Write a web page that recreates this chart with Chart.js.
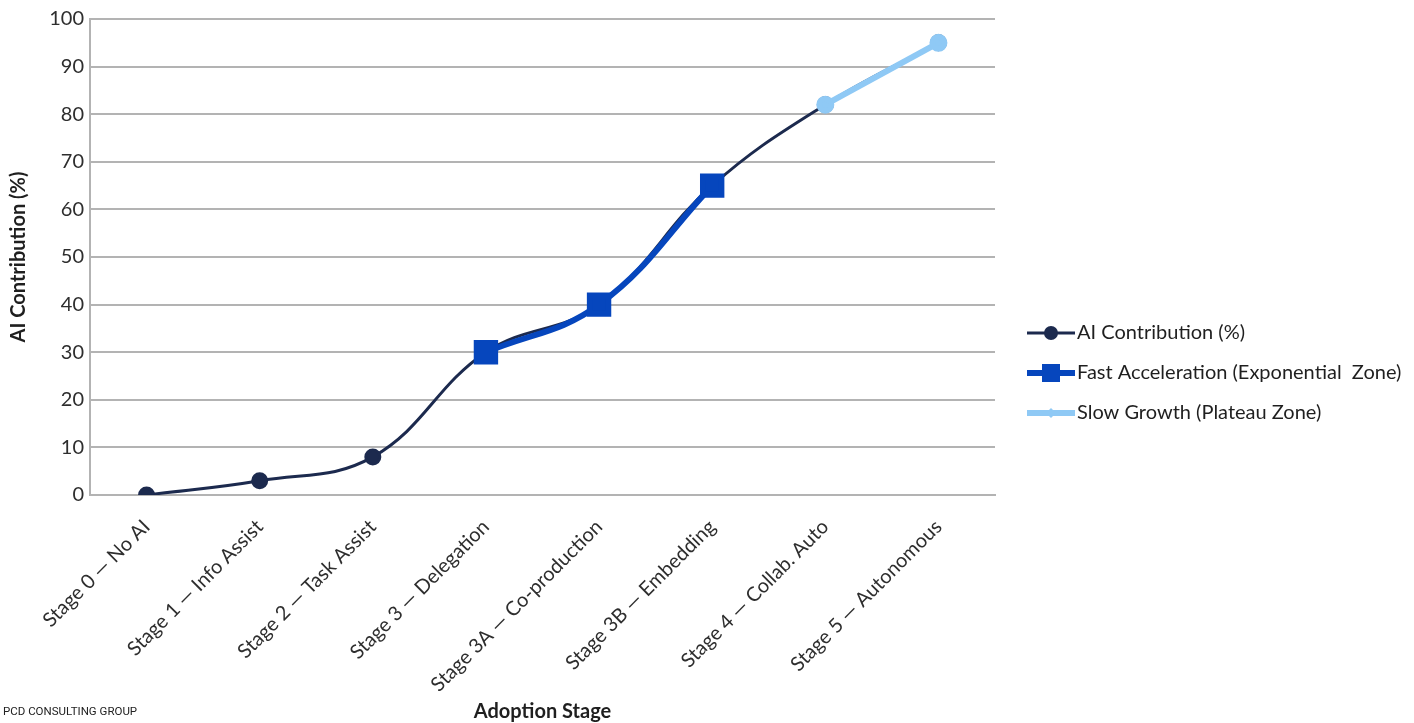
<!DOCTYPE html>
<html>
<head>
<meta charset="utf-8">
<script src="https://cdn.jsdelivr.net/npm/chart.js@4.4.1/dist/chart.umd.min.js"></script>
<style>
  html, body { margin: 0; padding: 0; background: #ffffff; }
  #wrap { position: relative; width: 1414px; height: 723px; }
  #brand {
    position: absolute; left: 3px; top: 703px;
    font-family: Roboto, "Liberation Sans", sans-serif; font-size: 11.5px;
    line-height: 16px; color: #222;
  }
</style>
</head>
<body>
<div id="wrap">
  <canvas id="chart" width="1414" height="723"></canvas>
  <div id="brand">PCD CONSULTING GROUP</div>
</div>
<script>
// Adoption stages along the x axis
const stages = [
  'Stage 0 — No AI',
  'Stage 1 — Info Assist',
  'Stage 2 — Task Assist',
  'Stage 3 — Delegation',
  'Stage 3A — Co-production',
  'Stage 3B — Embedding',
  'Stage 4 — Collab. Auto',
  'Stage 5 — Autonomous'
];

// AI contribution (%) per stage
const aiContribution = [0, 3, 8, 30, 40, 65, 82, 95];
// Highlighted exponential zone (stages 3 to 3B)
const fastAcceleration = [null, null, null, 30, 40, 65, null, null];
// Highlighted plateau zone (stages 4 to 5)
const slowGrowth = [null, null, null, null, null, null, 82, 95];

const yTicks = [0, 10, 20, 30, 40, 50, 60, 70, 80, 90, 100];

const NAVY = '#1c2a4e';
const BLUE = '#0646bd';
const LIGHT = '#8fc9f5';
const GRID = '#b3b3b3';
const FONT = 'Lato, "Liberation Sans", sans-serif';

// Legend drawn at the right of the plot, one line+marker sample per dataset
const sideLegend = {
  id: 'sideLegend',
  afterDraw(chart) {
    const ctx = chart.ctx;
    const x0 = 1027, x1 = 1075, rowY = [333, 373, 413];
    chart.data.datasets.forEach((ds, i) => {
      const y = rowY[i];
      const cx = (x0 + x1) / 2;
      ctx.save();
      ctx.strokeStyle = ds.borderColor;
      ctx.lineWidth = ds.borderWidth;
      ctx.lineCap = 'butt';
      ctx.beginPath();
      ctx.moveTo(x0, y);
      ctx.lineTo(x1, y);
      ctx.stroke();
      ctx.fillStyle = ds.pointBackgroundColor;
      if (ds.pointStyle === 'rect') {
        ctx.fillRect(cx - 9, y - 9, 18, 18);
      } else if (ds.legendMarker === 'diamond') {
        ctx.beginPath();
        ctx.moveTo(cx, y - 5); ctx.lineTo(cx + 5, y);
        ctx.lineTo(cx, y + 5); ctx.lineTo(cx - 5, y);
        ctx.closePath(); ctx.fill();
      } else {
        ctx.beginPath();
        ctx.arc(cx, y, 7, 0, Math.PI * 2);
        ctx.fill();
      }
      ctx.fillStyle = '#1f1f1f';
      ctx.font = '20px ' + FONT;
      ctx.textBaseline = 'middle';
      ctx.textAlign = 'left';
      ctx.fillText(ds.label, x1 + 2, y);
      ctx.restore();
    });
  }
};

new Chart(document.getElementById('chart'), {
  type: 'line',
  data: {
    labels: stages,
    datasets: [
      {
        label: 'AI Contribution (%)',
        data: aiContribution,
        borderColor: NAVY,
        backgroundColor: NAVY,
        pointBackgroundColor: NAVY,
        pointBorderColor: NAVY,
        borderWidth: 3,
        pointRadius: 7,
        pointStyle: 'circle',
        tension: 0.4,
        order: 3
      },
      {
        label: 'Fast Acceleration (Exponential  Zone)',
        data: fastAcceleration,
        borderColor: BLUE,
        backgroundColor: BLUE,
        pointBackgroundColor: BLUE,
        pointBorderColor: BLUE,
        borderWidth: 6,
        pointRadius: 13,
        pointStyle: 'rect',
        tension: 0.4,
        order: 2
      },
      {
        label: 'Slow Growth (Plateau Zone)',
        data: slowGrowth,
        borderColor: LIGHT,
        backgroundColor: LIGHT,
        pointBackgroundColor: LIGHT,
        pointBorderColor: LIGHT,
        borderWidth: 6,
        pointRadius: 6,
        pointStyle: 'circle',
        legendMarker: 'diamond',
        tension: 0,
        order: 1
      }
    ]
  },
  options: {
    responsive: false,
    animation: false,
    spanGaps: false,
    layout: { padding: { top: 19, right: 419, left: 0, bottom: 0 } },
    plugins: {
      legend: { display: false },
      tooltip: { enabled: false }
    },
    scales: {
      x: {
        offset: true,
        grid: { display: false, drawTicks: false, tickLength: 0 },
        border: { display: true, color: GRID, width: 2 },
        ticks: {
          color: '#2e2e2e',
          font: { family: FONT, size: 20 },
          minRotation: 45,
          maxRotation: 45,
          padding: 20,
          autoSkip: false
        },
        title: {
          display: true,
          text: 'Adoption Stage',
          color: '#1f1f1f',
          font: { family: FONT, size: 20, weight: 'bold' },
          padding: { top: 4, bottom: -1 }
        },
        afterFit(scale) { scale.height = 228; }
      },
      y: {
        min: 0,
        max: 100,
        afterBuildTicks(scale) { scale.ticks = yTicks.map(v => ({ value: v })); },
        grid: { color: GRID, lineWidth: 2, drawTicks: false, tickLength: 0 },
        border: { display: true, color: GRID, width: 2 },
        ticks: {
          color: '#2e2e2e',
          font: { family: FONT, size: 20 },
          padding: 6
        },
        title: {
          display: true,
          text: 'AI Contribution (%)',
          color: '#1f1f1f',
          font: { family: FONT, size: 20, weight: 'bold' },
          padding: { top: 7, bottom: 4 }
        },
        afterFit(scale) { scale.width = 90; }
      }
    }
  },
  plugins: [sideLegend]
});
</script>
</body>
</html>
